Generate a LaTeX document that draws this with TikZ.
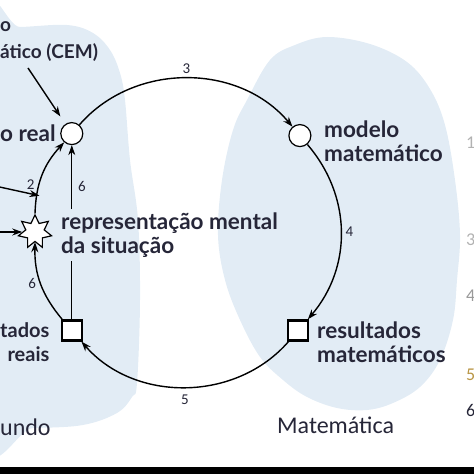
\documentclass[tikz,border=0pt]{standalone}
\usepackage{fontspec}
\setmainfont{Lato}
\newfontfamily\realmfont{Carlito}
\usepackage{tikz}
\usetikzlibrary{positioning,arrows.meta,shapes.geometric}
\definecolor{blob}{RGB}{226,236,245}
\definecolor{ink}{RGB}{38,38,56}
\definecolor{gold}{RGB}{185,150,70}

\begin{document}
\begin{tikzpicture}[x=1pt, y=1pt,
  font=\fontsize{22.5}{24.5}\selectfont\bfseries,
  lbl/.style={text=ink, align=left, inner sep=0pt},
  num/.style={text=ink, font=\realmfont\fontsize{15}{15}\selectfont, inner sep=1pt},
  realm/.style={text=ink, font=\realmfont\fontsize{24}{24}\selectfont, inner sep=0pt},
  frag/.style={font=\realmfont\fontsize{18}{18}\selectfont, inner sep=0pt, anchor=west},
  pt/.style={circle, draw, fill=white, line width=1.2pt, minimum size=22pt, inner sep=0pt},
  sq/.style={rectangle, draw, fill=white, line width=2.2pt, minimum size=20pt, inner sep=0pt},
  st/.style={star, star points=7, star point ratio=1.8, draw, fill=white, line width=1.2pt, minimum size=34pt, inner sep=0pt},
  arr/.style={-{Stealth[length=10pt,width=7pt]}, line width=1.4pt},
  vline/.style={line width=0.8pt}]
  \useasboundingbox (0,0) rectangle (474,474);
  \fill[blob] plot[smooth cycle, tension=0.6] coordinates {(-20,447) (20,447) (67,449) (93,441) (110,424) (120,401) (125,374) (130,314) (138,254) (140,174) (137,91) (132,77) (117,61) (83,49) (33,46) (-20,46)};
  \fill[blob] plot[smooth cycle, tension=0.6] coordinates {(327,437) (370,430) (407,412) (430,385) (445,349) (455,294) (460,239) (457,194) (453,154) (440,114) (420,87) (393,71) (367,64) (337,66) (307,77) (283,94) (260,117) (240,154) (225,194) (218,239) (222,294) (233,344) (247,374) (270,414) (295,429)};
  \coordinate (c) at (185,242);
  \node[pt] (real) at ([shift={(139:150)}]c) {};
  \node[pt] (model) at ([shift={(40:150)}]c) {};
  \node[sq] (resmat) at ([shift={(-41:150)}]c) {};
  \node[sq] (resreal) at ([shift={(-139:150)}]c) {};
  \node[st] (rep) at ([shift={(180:150)}]c) {};
  \node[lbl, anchor=west, font=\fontsize{19}{24}\selectfont\bfseries] (cemtop) at (0,447) {o};
  \node[lbl, anchor=west, font=\fontsize{19}{24}\selectfont\bfseries] (cem) at (0,421) {ático (CEM)};
  \node[lbl, anchor=west] (lreal) at (0,341) {o real};
  \node[lbl, anchor=west] (lrep) at (61,239) {representação mental\\da situação};
  \node[lbl, anchor=west, align=right, font=\fontsize{20}{24.5}\selectfont\bfseries] (lresreal) at (0,132) {tados\\reais};
  \node[lbl, anchor=west] (lmodel) at (324,333) {modelo\\matemático};
  \node[lbl, anchor=west] (lresmat) at (317,132) {resultados\\matemáticos};
  \node[realm, anchor=west] (mundo) at (0,47) {undo};
  \node[realm, anchor=west] (mat) at (277,49) {Matemática};
  \draw[arr] (real) to[bend left=49.5] node[num, above=3pt] (n3) {3} (model);
  \draw[arr] (model) to[bend left=40.5] node[num, right=3pt] (n4) {4} (resmat);
  \draw[arr] (resmat) to[bend left=49] node[num, below=6pt] (n5) {5} (resreal);
  \draw[arr] (resreal) to[bend left=20.5] node[num, left=3pt] (n6a) {6} (rep);
  \draw[arr] (rep) to[bend left=20.5] (real);
  \draw[vline] (resreal.north) -- ([yshift=-3pt]resreal.north |- lrep.south);
  \draw[vline, -{Stealth[length=10pt,width=7pt]}] ([yshift=3pt]resreal.north |- lrep.north) -- node[num, pos=.35, right=5pt] (n6b) {6} (real.south);
  \coordinate (in2) at (-5,288);
  \coordinate (h2) at ([shift={(166:150)}]c);
  \draw[arr] (in2) -- node[num, pos=.8, above=3pt] (n2) {2} (h2);
  \coordinate (in1) at (-5,242);
  \draw[arr] (in1) -- (rep);
  \coordinate (cemfoot) at (28,406);
  \draw[arr, shorten >=9pt] (cemfoot) -- (real);
  \foreach \y/\d/\c in {331/1/gray!60, 234/3/gray!60, 178/4/gray!80, 99/5/gold, 64/6/ink}
    \node[frag, text=\c] (frag\d) at (466,\y) {\d};
  \fill (0,0) rectangle (474,7);
\end{tikzpicture}
\end{document}
